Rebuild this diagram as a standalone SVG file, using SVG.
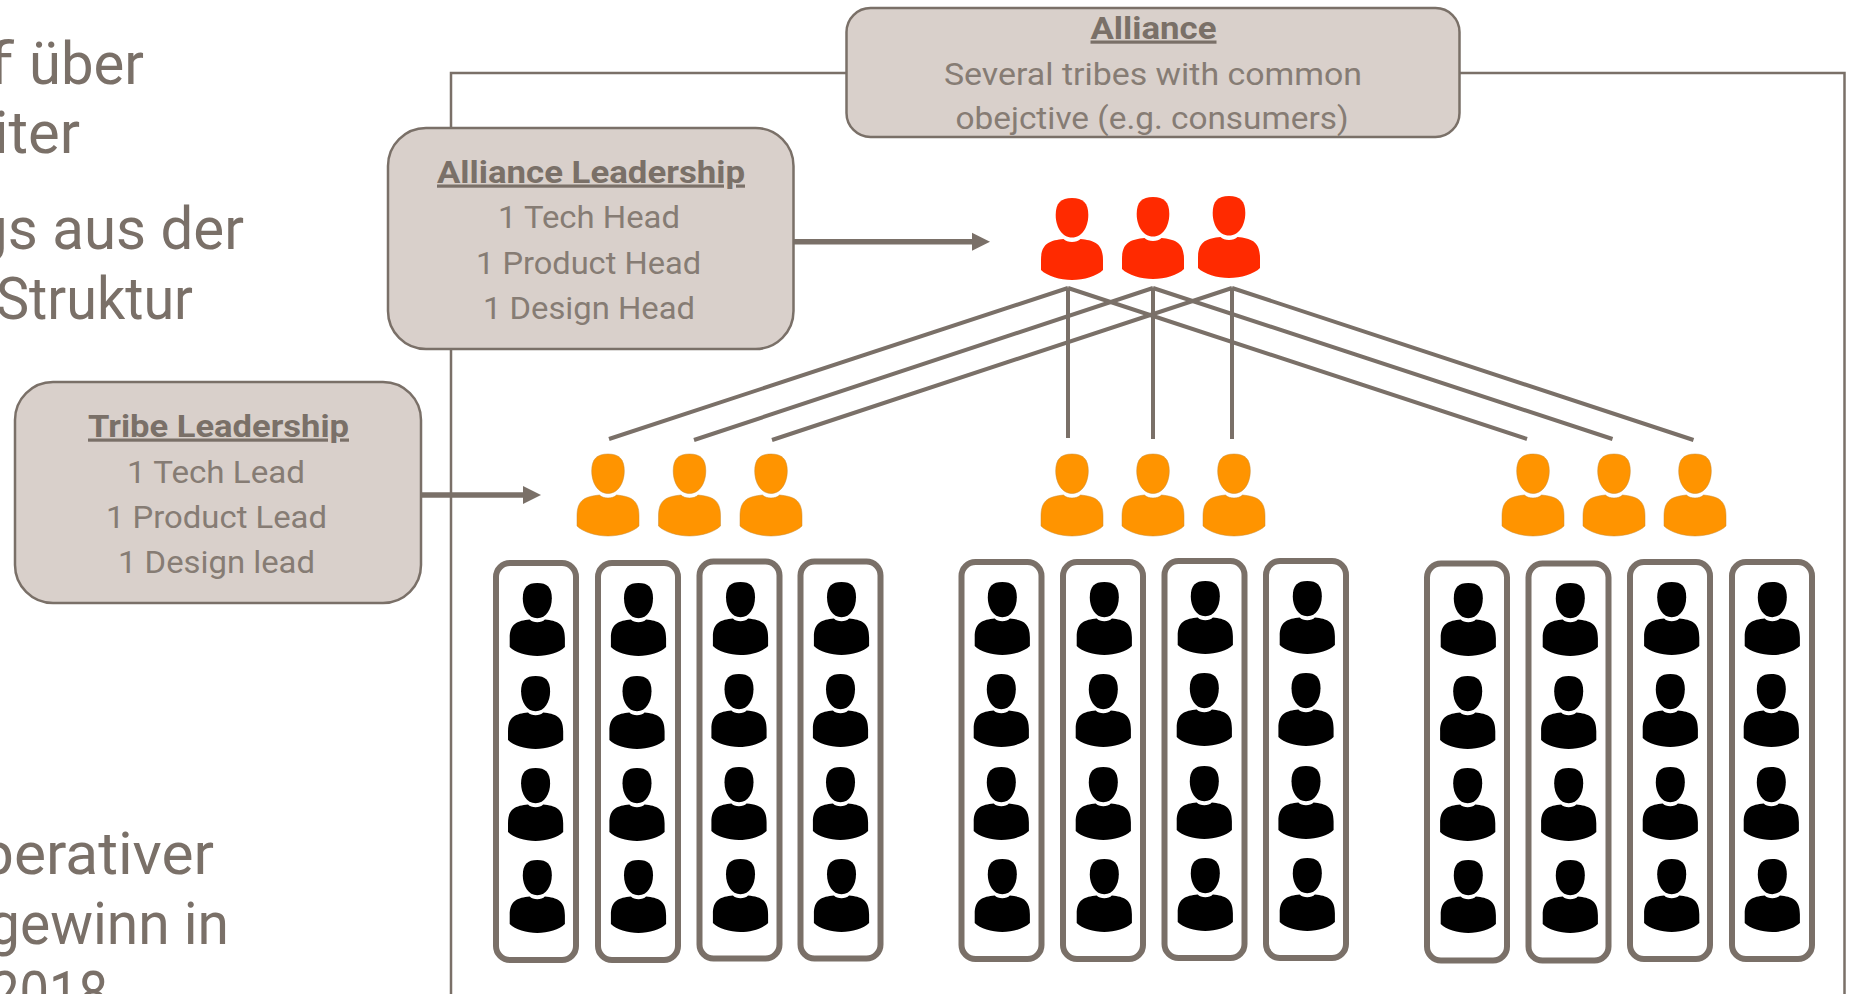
<svg xmlns="http://www.w3.org/2000/svg" xmlns:xlink="http://www.w3.org/1999/xlink" width="1853" height="994" viewBox="0 0 1853 994">
<style>
text{font-family:"Roboto","Liberation Sans",sans-serif;fill:#7a7068}
.big{font-size:59px}
.t{font-size:32px;font-weight:400;fill:#867c74}
.h{font-size:32px;font-weight:700;text-decoration:underline}
.box{fill:#d9d0cb;stroke:#7a7068;stroke-width:2.5}
.col{fill:#fff;stroke:#7a7068;stroke-width:6}
.frame{fill:none;stroke:#7a7068;stroke-width:2.5}
.link{fill:none;stroke:#7a7068;stroke-width:4}
.arrow{fill:none;stroke:#7a7068;stroke-width:5.5;marker-end:url(#ah)}
.red{fill:#ff2a00}.org{fill:#ff9400;stroke:#c98a30;stroke-width:.5}.blk{fill:#000}
</style>
<defs>
<marker id="ah" markerUnits="userSpaceOnUse" markerWidth="20" markerHeight="20" refX="1" refY="10" orient="auto"><polygon points="0,1 18,10 0,19" fill="#7a7068"/></marker>
<g id="person">
<path d="M0,0C11,0 16.3,5 16.3,17C16.3,29 10,39.5 0,39.5C-10,39.5 -16.3,29 -16.3,17C-16.3,5 -11,0 0,0Z"/>
<path d="M-8.5,41C-5,45 5,45 8.5,41C22,42.5 31,45 31,62L31,72C25,78 12,82 0,82C-12,82 -25,78 -31,72L-31,62C-31,45 -22,42.5 -8.5,41Z"/>
</g>
</defs>
<rect width="1853" height="994" fill="#fff"/>
<g id="left-text">
<text class="big" y="84"><tspan x="-16" textLength="30" lengthAdjust="spacingAndGlyphs">f</tspan> <tspan x="29" textLength="115" lengthAdjust="spacingAndGlyphs">über</tspan></text>
<text class="big" x="-6" y="153" textLength="86" lengthAdjust="spacingAndGlyphs">iter</text>
<text class="big" x="-25" y="249" textLength="269" lengthAdjust="spacingAndGlyphs">gs aus der</text>
<text class="big" x="-4" y="319" textLength="197" lengthAdjust="spacingAndGlyphs">Struktur</text>
<text class="big" x="-20" y="873.5" textLength="234" lengthAdjust="spacingAndGlyphs">perativer</text>
<text class="big" x="-12" y="943.5" textLength="241" lengthAdjust="spacingAndGlyphs">gewinn in</text>
<text class="big" x="-10" y="1013" textLength="118" lengthAdjust="spacingAndGlyphs">2018</text>
</g>
<g id="connectors">
<path class="frame" d="M847,73H451V994"/>
<path class="frame" d="M1460,73H1844.5V994"/>
<path class="arrow" d="M794,241.7H973"/>
<path class="arrow" d="M421,495H524"/>
<path class="link" d="M1068,288L609,439M1153,288L694,440M1232,288L772,440"/>
<path class="link" d="M1068,288V438M1153,288V439M1232,288V439"/>
<path class="link" d="M1068,288L1527,439M1153,288L1612.5,439M1232,288L1693.5,440"/>
</g>
<g id="alliance">
<rect class="box" x="846.5" y="8" width="613" height="129" rx="24"/>
<text class="h" x="1090.5" y="38.5" textLength="126" lengthAdjust="spacingAndGlyphs">Alliance</text>
<text class="t" x="944" y="84.5" textLength="418" lengthAdjust="spacingAndGlyphs">Several tribes with common</text>
<text class="t" x="955.5" y="129" textLength="393" lengthAdjust="spacingAndGlyphs">obejctive (e.g. consumers)</text>
</g>
<g id="alliance-leadership">
<rect class="box" x="388" y="128" width="405.5" height="221" rx="38"/>
<text class="h" x="437" y="182.5" textLength="308" lengthAdjust="spacingAndGlyphs">Alliance Leadership</text>
<text class="t" x="498" y="228" textLength="182" lengthAdjust="spacingAndGlyphs">1 Tech Head</text>
<text class="t" x="476" y="273.5" textLength="225" lengthAdjust="spacingAndGlyphs">1 Product Head</text>
<text class="t" x="483" y="319" textLength="212" lengthAdjust="spacingAndGlyphs">1 Design Head</text>
</g>
<g id="tribe-leadership">
<rect class="box" x="15" y="382" width="406" height="221" rx="38"/>
<text class="h" x="88" y="436.5" textLength="261" lengthAdjust="spacingAndGlyphs">Tribe Leadership</text>
<text class="t" x="127" y="482.5" textLength="178" lengthAdjust="spacingAndGlyphs">1 Tech Lead</text>
<text class="t" x="106" y="528" textLength="221" lengthAdjust="spacingAndGlyphs">1 Product Lead</text>
<text class="t" x="118" y="572.5" textLength="197" lengthAdjust="spacingAndGlyphs">1 Design lead</text>
</g>
<g id="alliance-heads" class="red">
<use href="#person" x="1072" y="198"/><use href="#person" x="1153" y="197"/><use href="#person" x="1229" y="196"/>
</g>
<g id="tribe-leads-1" class="org">
<use href="#person" x="608" y="454"/><use href="#person" x="689.5" y="454"/><use href="#person" x="771" y="454"/>
</g>
<g id="tribe-leads-2" class="org">
<use href="#person" x="1072" y="454"/><use href="#person" x="1153" y="454"/><use href="#person" x="1234" y="454"/>
</g>
<g id="tribe-leads-3" class="org">
<use href="#person" x="1533" y="454"/><use href="#person" x="1614" y="454"/><use href="#person" x="1695" y="454"/>
</g>
<g id="squad-1-1" class="blk"><rect class="col" x="496" y="563" width="80" height="397" rx="14"/>
<use href="#person" transform="translate(537.3 583) scale(.89)"/><use href="#person" transform="translate(535.6 676) scale(.89)"/><use href="#person" transform="translate(535.6 768) scale(.89)"/><use href="#person" transform="translate(537.3 860) scale(.89)"/></g>
<g id="squad-1-2" class="blk"><rect class="col" x="598" y="563" width="80" height="397" rx="14"/>
<use href="#person" transform="translate(638.5 583) scale(.89)"/><use href="#person" transform="translate(637 676) scale(.89)"/><use href="#person" transform="translate(637 768) scale(.89)"/><use href="#person" transform="translate(638.5 860) scale(.89)"/></g>
<g id="squad-1-3" class="blk"><rect class="col" x="699.5" y="561.5" width="80" height="397" rx="14"/>
<use href="#person" transform="translate(740.5 582) scale(.89)"/><use href="#person" transform="translate(739 674) scale(.89)"/><use href="#person" transform="translate(739 767) scale(.89)"/><use href="#person" transform="translate(740.5 859) scale(.89)"/></g>
<g id="squad-1-4" class="blk"><rect class="col" x="800.5" y="561.5" width="80" height="397" rx="14"/>
<use href="#person" transform="translate(841.5 582) scale(.89)"/><use href="#person" transform="translate(840.5 674) scale(.89)"/><use href="#person" transform="translate(840.5 767) scale(.89)"/><use href="#person" transform="translate(841.5 859) scale(.89)"/></g>
<g id="squad-2-1" class="blk"><rect class="col" x="961.5" y="562" width="80" height="397" rx="14"/>
<use href="#person" transform="translate(1002.3 582) scale(.89)"/><use href="#person" transform="translate(1001.3 674) scale(.89)"/><use href="#person" transform="translate(1001.3 767) scale(.89)"/><use href="#person" transform="translate(1002.3 859) scale(.89)"/></g>
<g id="squad-2-2" class="blk"><rect class="col" x="1063" y="562" width="80" height="397" rx="14"/>
<use href="#person" transform="translate(1104.3 582) scale(.89)"/><use href="#person" transform="translate(1103.3 674) scale(.89)"/><use href="#person" transform="translate(1103.3 767) scale(.89)"/><use href="#person" transform="translate(1104.3 859) scale(.89)"/></g>
<g id="squad-2-3" class="blk"><rect class="col" x="1164.5" y="561" width="80" height="397" rx="14"/>
<use href="#person" transform="translate(1205.3 581) scale(.89)"/><use href="#person" transform="translate(1204.3 673) scale(.89)"/><use href="#person" transform="translate(1204.3 766) scale(.89)"/><use href="#person" transform="translate(1205.3 858) scale(.89)"/></g>
<g id="squad-2-4" class="blk"><rect class="col" x="1266" y="561" width="80" height="397" rx="14"/>
<use href="#person" transform="translate(1307.3 581) scale(.89)"/><use href="#person" transform="translate(1306 673) scale(.89)"/><use href="#person" transform="translate(1306 766) scale(.89)"/><use href="#person" transform="translate(1307.3 858) scale(.89)"/></g>
<g id="squad-3-1" class="blk"><rect class="col" x="1427" y="563.5" width="80" height="397" rx="14"/>
<use href="#person" transform="translate(1468.3 583) scale(.89)"/><use href="#person" transform="translate(1467.7 676) scale(.89)"/><use href="#person" transform="translate(1467.7 768) scale(.89)"/><use href="#person" transform="translate(1468.3 860) scale(.89)"/></g>
<g id="squad-3-2" class="blk"><rect class="col" x="1528.5" y="563.5" width="80" height="397" rx="14"/>
<use href="#person" transform="translate(1570.3 583) scale(.89)"/><use href="#person" transform="translate(1568.7 676) scale(.89)"/><use href="#person" transform="translate(1568.7 768) scale(.89)"/><use href="#person" transform="translate(1570.3 860) scale(.89)"/></g>
<g id="squad-3-3" class="blk"><rect class="col" x="1630" y="562" width="80" height="397" rx="14"/>
<use href="#person" transform="translate(1671.7 582) scale(.89)"/><use href="#person" transform="translate(1670.3 674) scale(.89)"/><use href="#person" transform="translate(1670.3 767) scale(.89)"/><use href="#person" transform="translate(1671.7 859) scale(.89)"/></g>
<g id="squad-3-4" class="blk"><rect class="col" x="1732" y="562" width="80" height="397" rx="14"/>
<use href="#person" transform="translate(1772.3 582) scale(.89)"/><use href="#person" transform="translate(1771.3 674) scale(.89)"/><use href="#person" transform="translate(1771.3 767) scale(.89)"/><use href="#person" transform="translate(1772.3 859) scale(.89)"/></g>
</svg>
